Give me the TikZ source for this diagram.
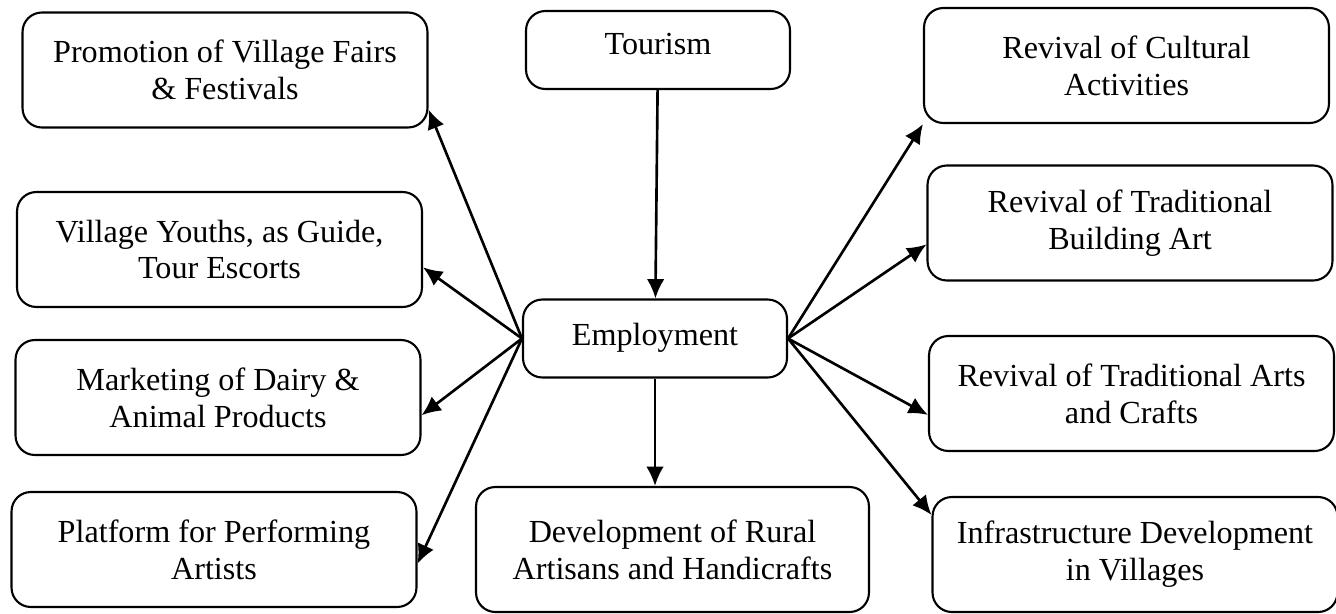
\documentclass[tikz,border=0pt]{standalone}
\usepackage{fontspec}
\setmainfont{Liberation Serif}
\usetikzlibrary{arrows.meta}
\tikzset{%
	box/.style={draw, rectangle, rounded corners=11pt, line width=1.2pt, align=center,%
		minimum width=8.1cm, minimum height=2.3cm, inner sep=0mm,%
		font=\fontsize{18.3}{21}\selectfont},
	hub/.style={box, minimum width=5.28cm, minimum height=1.56cm},
	connector/.style={line width=1.5pt, -{Latex[length=11pt,width=10pt]}}
}
\begin{document}
\begin{tikzpicture}[x=0.02cm, y=-0.02cm]
	\useasboundingbox (0,0) rectangle (1336,613);

	\node[hub, text depth=0.25cm] (tour) at (658,50) {Tourism};
	\node[hub, text depth=0.15cm] (emp) at (655,338.5) {Employment};
	\node[box, minimum width=7.86cm, minimum height=2.5cm] (dev) at (672.5,549.5)
		{Development of Rural\\Artisans and Handicrafts};

	\node[box]  (promo) at (225,70)      {Promotion of Village Fairs\\\& Festivals};
	\node[box]  (youth) at (219.5,249.5) {Village Youths, as Guide,\\Tour Escorts};
	\node[box]  (dairy) at (218,397.5)   {Marketing of Dairy \&\\Animal Products};
	\node[box]  (perf)  at (214,549.5)   {Platform for Performing\\Artists};

	\node[box]  (cult)  at (1126.5,65.5) {Revival of Cultural\\Activities};
	\node[box]  (build) at (1130,223)    {Revival of Traditional\\Building Art};
	\node[box]  (craft) at (1131.5,393.5) {Revival of Traditional Arts\\and Crafts};
	\node[box]  (infra) at (1135,554.5)  {Infrastructure Development\\in Villages};

	\draw[connector] (tour) -- (emp);
	\draw[connector] (emp.south) -- (emp.south |- dev.north);

	\draw[connector] (emp.west) -- (promo.-11.7);
	\draw[connector] (emp.west) -- (youth.-5.2);
	\draw[connector] (emp.west) -- (dairy.-5.6);
	\draw[connector] (emp.west) -- (perf.-4.9);

	\draw[connector] (emp.east) -- (cult.south west);
	\draw[connector] (emp.east) -- (build.186.6);
	\draw[connector] (emp.east) -- (craft.186.7);
	\draw[connector] (emp.east) -- (infra.169.4);
\end{tikzpicture}
\end{document}
